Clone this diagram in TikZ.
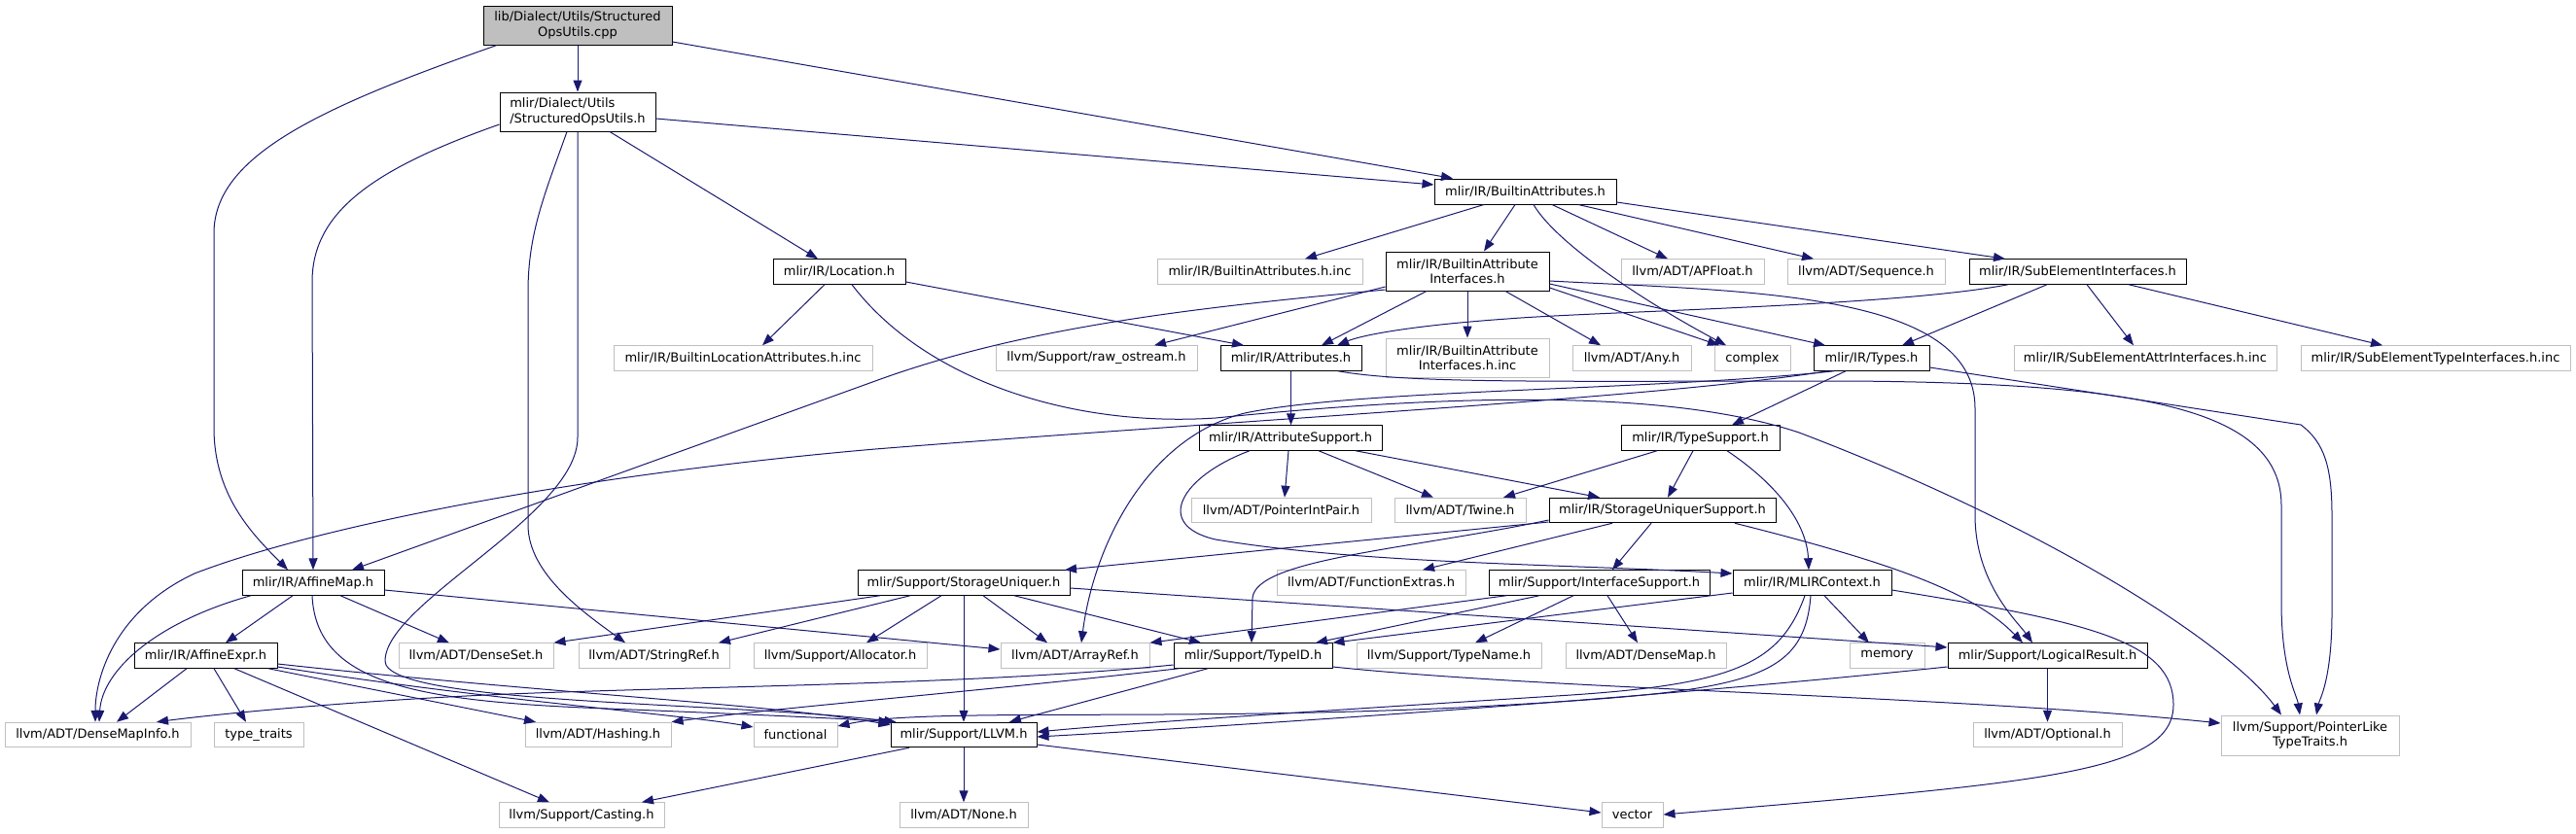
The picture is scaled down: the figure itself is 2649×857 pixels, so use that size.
\documentclass[tikz,border=0pt]{standalone}
\usepackage{fontspec}
\setmainfont{DejaVu Sans}
\usetikzlibrary{arrows.meta}
\definecolor{edgec}{HTML}{191970}
\definecolor{greyb}{HTML}{BFBFBF}
\newcommand\gfs{\fontsize{13}{15.5}\selectfont}
\begin{document}
\begin{tikzpicture}[x=1pt,y=-1pt,
 base/.style={rectangle, inner sep=0pt, line width=1pt, font=\gfs, minimum height=25.5pt},
 doc/.style={base, draw=black, fill=white},
 ext/.style={base, draw=greyb, fill=white},
 e/.style={draw=edgec, line width=1pt, -{Triangle[length=12pt,width=9pt]}}]
\fill[white] (0,0) rectangle (2649,857);
\useasboundingbox (0,0) rectangle (2649,857);

% ---------- nodes ----------
\node[doc, fill=greyb, minimum width=194pt, minimum height=40pt, align=center] (root) at (594,26) {lib/Dialect/Utils/Structured\\OpsUtils.cpp};
\node[doc, minimum width=160pt, minimum height=40pt, align=left] (sou) at (594,115) {mlir/Dialect/Utils\\/StructuredOpsUtils.h};
\node[doc, minimum width=187pt, minimum height=26pt] (ba) at (1568.5,197) {mlir/IR/BuiltinAttributes.h};

\node[doc, minimum width=136pt] (loc) at (863,279.5) {mlir/IR/Location.h};
\node[ext, minimum width=211pt] (bainc) at (1295.5,279.5) {mlir/IR/BuiltinAttributes.h.inc};
\node[doc, minimum width=168pt, minimum height=40pt, align=center] (bai) at (1509,279) {mlir/IR/BuiltinAttribute\\Interfaces.h};
\node[ext, minimum width=147pt] (apfloat) at (1740.5,279.5) {llvm/ADT/APFloat.h};
\node[ext, minimum width=162pt] (seq) at (1919,279.5) {llvm/ADT/Sequence.h};
\node[doc, minimum width=223pt] (sei) at (2136.5,279.5) {mlir/IR/SubElementInterfaces.h};

\node[ext, minimum width=266pt] (blainc) at (764,368.5) {mlir/IR/BuiltinLocationAttributes.h.inc};
\node[ext, minimum width=207pt] (rawos) at (1127.5,368.5) {llvm/Support/raw\_ostream.h};
\node[doc, minimum width=145pt] (attr) at (1327.5,368.5) {mlir/IR/Attributes.h};
\node[ext, minimum width=168pt, minimum height=40pt, align=center] (baiinc) at (1509,368) {mlir/IR/BuiltinAttribute\\Interfaces.h.inc};
\node[ext, minimum width=122pt] (any) at (1678,368.5) {llvm/ADT/Any.h};
\node[ext, minimum width=78pt] (complex) at (1802,368.5) {complex};
\node[doc, minimum width=119pt] (types) at (1924.5,368.5) {mlir/IR/Types.h};
\node[ext, minimum width=270pt] (seainc) at (2206,368.5) {mlir/IR/SubElementAttrInterfaces.h.inc};
\node[ext, minimum width=277pt] (setinc) at (2504.5,368.5) {mlir/IR/SubElementTypeInterfaces.h.inc};

\node[doc, minimum width=188pt] (attrsup) at (1327,450.5) {mlir/IR/AttributeSupport.h};
\node[doc, minimum width=163pt] (typesup) at (1748.5,450.5) {mlir/IR/TypeSupport.h};

\node[ext, minimum width=185pt] (pip) at (1317.5,525) {llvm/ADT/PointerIntPair.h};
\node[ext, minimum width=135pt] (twine) at (1501.5,525) {llvm/ADT/Twine.h};
\node[doc, minimum width=233pt] (sus) at (1709.5,525) {mlir/IR/StorageUniquerSupport.h};

\node[doc, minimum width=146pt] (affmap) at (322,599.5) {mlir/IR/AffineMap.h};
\node[doc, minimum width=218pt] (su) at (991,599.5) {mlir/Support/StorageUniquer.h};
\node[ext, minimum width=194pt] (funcext) at (1410,599.5) {llvm/ADT/FunctionExtras.h};
\node[doc, minimum width=227pt] (ifs) at (1644.5,599.5) {mlir/Support/InterfaceSupport.h};
\node[doc, minimum width=163pt] (ctx) at (1863.5,599.5) {mlir/IR/MLIRContext.h};

\node[doc, minimum width=147pt] (affexpr) at (211.5,674.5) {mlir/IR/AffineExpr.h};
\node[ext, minimum width=159pt] (denseset) at (489.5,674.5) {llvm/ADT/DenseSet.h};
\node[ext, minimum width=155pt] (stringref) at (672.5,674.5) {llvm/ADT/StringRef.h};
\node[ext, minimum width=178pt] (alloc) at (864,674.5) {llvm/Support/Allocator.h};
\node[ext, minimum width=153pt] (arrayref) at (1105.5,674.5) {llvm/ADT/ArrayRef.h};
\node[doc, minimum width=163pt] (typeid) at (1288.5,674.5) {mlir/Support/TypeID.h};
\node[ext, minimum width=190pt] (typename) at (1490,674.5) {llvm/Support/TypeName.h};
\node[ext, minimum width=165pt] (densemap) at (1692.5,674.5) {llvm/ADT/DenseMap.h};
\node[ext, minimum width=77pt] (memory) at (1940.5,674.5) {memory};
\node[doc, minimum width=205pt] (logres) at (2105.5,674.5) {mlir/Support/LogicalResult.h};

\node[ext, minimum width=191pt] (dmi) at (100.5,756) {llvm/ADT/DenseMapInfo.h};
\node[ext, minimum width=92pt] (typetraits) at (266,756) {type\_traits};
\node[ext, minimum width=150pt] (hashing) at (615,756) {llvm/ADT/Hashing.h};
\node[ext, minimum width=86pt] (functional) at (818,756) {functional};
\node[doc, minimum width=150pt] (llvm) at (991,756) {mlir/Support/LLVM.h};
\node[ext, minimum width=153pt] (optional) at (2105.5,756) {llvm/ADT/Optional.h};
\node[ext, minimum width=183pt, minimum height=41pt, align=center] (plt) at (2375.5,756.5) {llvm/Support/PointerLike\\TypeTraits.h};

\node[ext, minimum width=170pt] (casting) at (598,838.5) {llvm/Support/Casting.h};
\node[ext, minimum width=132pt] (none) at (991,838.5) {llvm/ADT/None.h};
\node[ext, minimum width=63pt] (vector) at (1678.5,838.5) {vector};

% ---------- edges ----------
% root
\draw[e] (root.south) -- (sou.north);
\draw[e] (root.east |- 0,43) -- (ba.north -| 1494,0);
\draw[e] (root.south -| 511,0) .. controls (330,110) and (220,160) .. (220,240) -- (220,440) .. controls (220,510) and (260,550) .. (affmap.north -| 296,0);
% StructuredOpsUtils.h
\draw[e] (sou.east |- 0,122) -- (ba.west |- 0,190);
\draw[e] (sou.south -| 627,0) -- (loc.north -| 841,0);
\draw[e] (sou.west |- 0,128) .. controls (380,175) and (321,220) .. (321,290) -- (affmap.north);
\draw[e] (sou.south -| 583,0) .. controls (560,200) and (543,240) .. (543,300) -- (543,540) .. controls (543,590) and (600,630) .. (stringref.north -| 643,0);
\draw[e] (sou.south) -- (594,450) .. controls (594,530) and (396,620) .. (396,680) .. controls (396,725) and (750,722) .. ([xshift=6pt]llvm.north west);
% BuiltinAttributes.h
\draw[e] (ba.south -| 1526,0) -- (bainc.north -| 1342,0);
\draw[e] (ba.south -| 1558,0) -- (bai.north -| 1526,0);
\draw[e] (ba.south -| 1577,0) .. controls (1600,250) and (1690,310) .. (complex.north -| 1775,0);
\draw[e] (ba.south -| 1596,0) -- (apfloat.north -| 1715,0);
\draw[e] (ba.south -| 1623,0) -- (seq.north -| 1865,0);
\draw[e] (ba.east |- 0,208) -- (sei.north -| 2062,0);
% Location.h
\draw[e] (loc.south -| 848,0) -- (blainc.north -| 784,0);
\draw[e] (loc.east |- 0,290) -- (attr.north -| 1279,0);
\draw[e] (loc.south -| 876,0) .. controls (950,390) and (1100,440) .. (1250,430) .. controls (1450,410) and (1700,395) .. (1850,445) .. controls (2100,540) and (2290,660) .. (plt.north -| 2346,0);
% BuiltinAttributeInterfaces.h
\draw[e] (bai.west |- 0,295) -- (rawos.north -| 1187,0);
\draw[e] (bai.south -| 1467,0) -- (attr.north -| 1359,0);
\draw[e] (bai.south) -- (baiinc.north);
\draw[e] (bai.south -| 1548,0) -- (any.north -| 1646,0);
\draw[e] (bai.east |- 0,296) -- (complex.north -| 1768,0);
\draw[e] (bai.east |- 0,292) -- (types.north -| 1877,0);
\draw[e] (bai.west |- 0,298) .. controls (1250,315) and (1061,333) .. (900,392) -- (affmap.north -| 362,0);
\draw[e] (bai.east |- 0,289) .. controls (1800,300) and (2031,300) .. (2031,420) -- (2031,530) .. controls (2031,600) and (2075,640) .. (logres.north -| 2090,0);
% SubElementInterfaces.h
\draw[e] (sei.south -| 2065,0) .. controls (1950,315) and (1650,320) .. (1550,328) .. controls (1450,335) and (1400,345) .. (attr.north -| 1375,0);
\draw[e] (sei.south -| 2105,0) -- (types.north -| 1956,0);
\draw[e] (sei.south -| 2146,0) -- (seainc.north -| 2194,0);
\draw[e] (sei.south -| 2189,0) -- (setinc.north -| 2450,0);
% Attributes.h
\draw[e] (attr.south) -- (attrsup.north -| 1327.5,0);
\draw[e] (attr.south -| 1376,0) .. controls (1450,395) and (1600,392) .. (1900,392) .. controls (2200,394) and (2346,420) .. (2346,520) -- (2346,620) .. controls (2346,690) and (2362,715) .. (plt.north -| 2365,0);
% Types.h
\draw[e] (types.east |- 0,378) -- (2366,437) .. controls (2390,455) and (2398,480) .. (2398,530) -- (2398,630) .. controls (2398,700) and (2385,720) .. (plt.north -| 2382,0);
\draw[e] (types.south -| 1898,0) -- (typesup.north -| 1781,0);
\draw[e] (types.south -| 1886,0) .. controls (1700,402) and (1400,400) .. (1280,425) .. controls (1180,450) and (1125,560) .. (arrayref.north -| 1112,0);
\draw[e] (types.south -| 1880,0) .. controls (1700,410) and (1300,430) .. (900,462) .. controls (600,488) and (330,540) .. (200,590) .. controls (115,630) and (98,700) .. (dmi.north -| 98,0);
% AttributeSupport.h
\draw[e] (attrsup.south -| 1325,0) -- (pip.north -| 1321,0);
\draw[e] (attrsup.south -| 1356,0) -- (twine.north -| 1474,0);
\draw[e] (attrsup.south -| 1394,0) -- (sus.north -| 1645,0);
\draw[e] (attrsup.south -| 1285,0) .. controls (1215,490) and (1185,540) .. (1250,555) .. controls (1400,580) and (1600,580) .. (ctx.west |- 0,590);
% TypeSupport.h
\draw[e] (typesup.south -| 1704,0) -- (twine.north -| 1546,0);
\draw[e] (typesup.south -| 1741,0) -- (sus.north -| 1715,0);
\draw[e] (typesup.south -| 1776,0) .. controls (1830,500) and (1858,540) .. (ctx.north -| 1860,0);
% StorageUniquerSupport.h
\draw[e] (sus.west |- 0,537) -- (su.north -| 1095,0);
\draw[e] (sus.west |- 0,535) .. controls (1450,565) and (1292,575) .. (1288,615) -- (typeid.north -| 1287,0);
\draw[e] (sus.south -| 1658,0) -- (funcext.north -| 1463,0);
\draw[e] (sus.south -| 1698,0) -- (ifs.north -| 1658,0);
\draw[e] (sus.south -| 1784,0) .. controls (1950,580) and (2030,610) .. (logres.north -| 2080,0);
% StorageUniquer.h
\draw[e] (su.south -| 905,0) -- (denseset.north east);
\draw[e] (su.south -| 936,0) -- (stringref.north -| 739,0);
\draw[e] (su.south -| 968,0) -- (alloc.north -| 891,0);
\draw[e] (su.south -| 1011,0) -- (arrayref.north -| 1077,0);
\draw[e] (su.south -| 1043,0) -- (typeid.north -| 1235,0);
\draw[e] (su.south) -- (llvm.north);
\draw[e] (su.east |- 0,605) -- (logres.west |- 0,666);
% AffineMap.h
\draw[e] (affmap.south -| 301,0) -- (affexpr.north -| 232,0);
\draw[e] (affmap.south -| 350,0) -- (denseset.north -| 462,0);
\draw[e] (affmap.south -| 258,0) .. controls (160,640) and (105,690) .. (dmi.north -| 102,0);
\draw[e] (affmap.east |- 0,607) -- (arrayref.west |- 0,668);
\draw[e] (affmap.south -| 321,0) .. controls (325,700) and (420,720) .. (600,728) .. controls (800,736) and (880,740) .. (llvm.north west);
% AffineExpr.h
\draw[e] (affexpr.south -| 192,0) -- (dmi.north -| 120,0);
\draw[e] (affexpr.south -| 220,0) -- (typetraits.north -| 253,0);
\draw[e] (affexpr.south -| 241,0) -- (casting.north -| 565,0);
\draw[e] (affexpr.south -| 276,0) -- (hashing.north -| 551,0);
\draw[e] (affexpr.east |- 0,686) .. controls (500,720) and (700,735) .. (functional.west |- 0,748);
\draw[e] (affexpr.east |- 0,683) .. controls (550,712) and (800,725) .. ([yshift=-3pt]llvm.north west);
% TypeID.h
\draw[e] (typeid.south -| 1242,0) -- (llvm.north -| 1038,0);
\draw[e] (typeid.south -| 1212,0) .. controls (1000,712) and (800,728) .. (hashing.north east);
\draw[e] (typeid.west |- 0,684) .. controls (1000,705) and (700,706) .. (500,715) .. controls (350,722) and (220,735) .. (dmi.north -| 161,0);
\draw[e] (typeid.east |- 0,686) .. controls (1600,710) and (2000,715) .. (plt.west |- 0,744);
% InterfaceSupport.h
\draw[e] (ifs.south -| 1549,0) -- (arrayref.north east);
\draw[e] (ifs.south -| 1583,0) -- (typeid.north -| 1353,0);
\draw[e] (ifs.south -| 1618,0) -- (typename.north -| 1517,0);
\draw[e] (ifs.south -| 1653,0) -- (densemap.north -| 1684,0);
% MLIRContext.h
\draw[e] (ctx.west |- 0,610) -- (typeid.north east);
\draw[e] (ctx.south -| 1876,0) -- (memory.north -| 1922,0);
\draw[e] (ctx.east |- 0,607) .. controls (2150,640) and (2235,660) .. (2235,725) .. controls (2235,795) and (2100,805) .. (vector.east |- 0,838);
\draw[e] (ctx.south -| 1856,0) .. controls (1830,685) and (1780,705) .. (1600,716) .. controls (1300,735) and (1150,745) .. (llvm.east |- 0,753);
\draw[e] (ctx.south -| 1862,0) .. controls (1855,705) and (1790,712) .. (1500,728) .. controls (1200,742) and (950,728) .. (functional.east |- 0,747);
% LogicalResult.h
\draw[e] (logres.south) -- (optional.north);
\draw[e] (logres.west |- 0,686) .. controls (1700,718) and (1300,745) .. (llvm.east |- 0,758);
% LLVM.h
\draw[e] (llvm.south -| 935,0) -- (casting.north -| 660,0);
\draw[e] (llvm.south) -- (none.north);
\draw[e] (llvm.east |- 0,766) -- (vector.west |- 0,836);
\end{tikzpicture}
\end{document}
